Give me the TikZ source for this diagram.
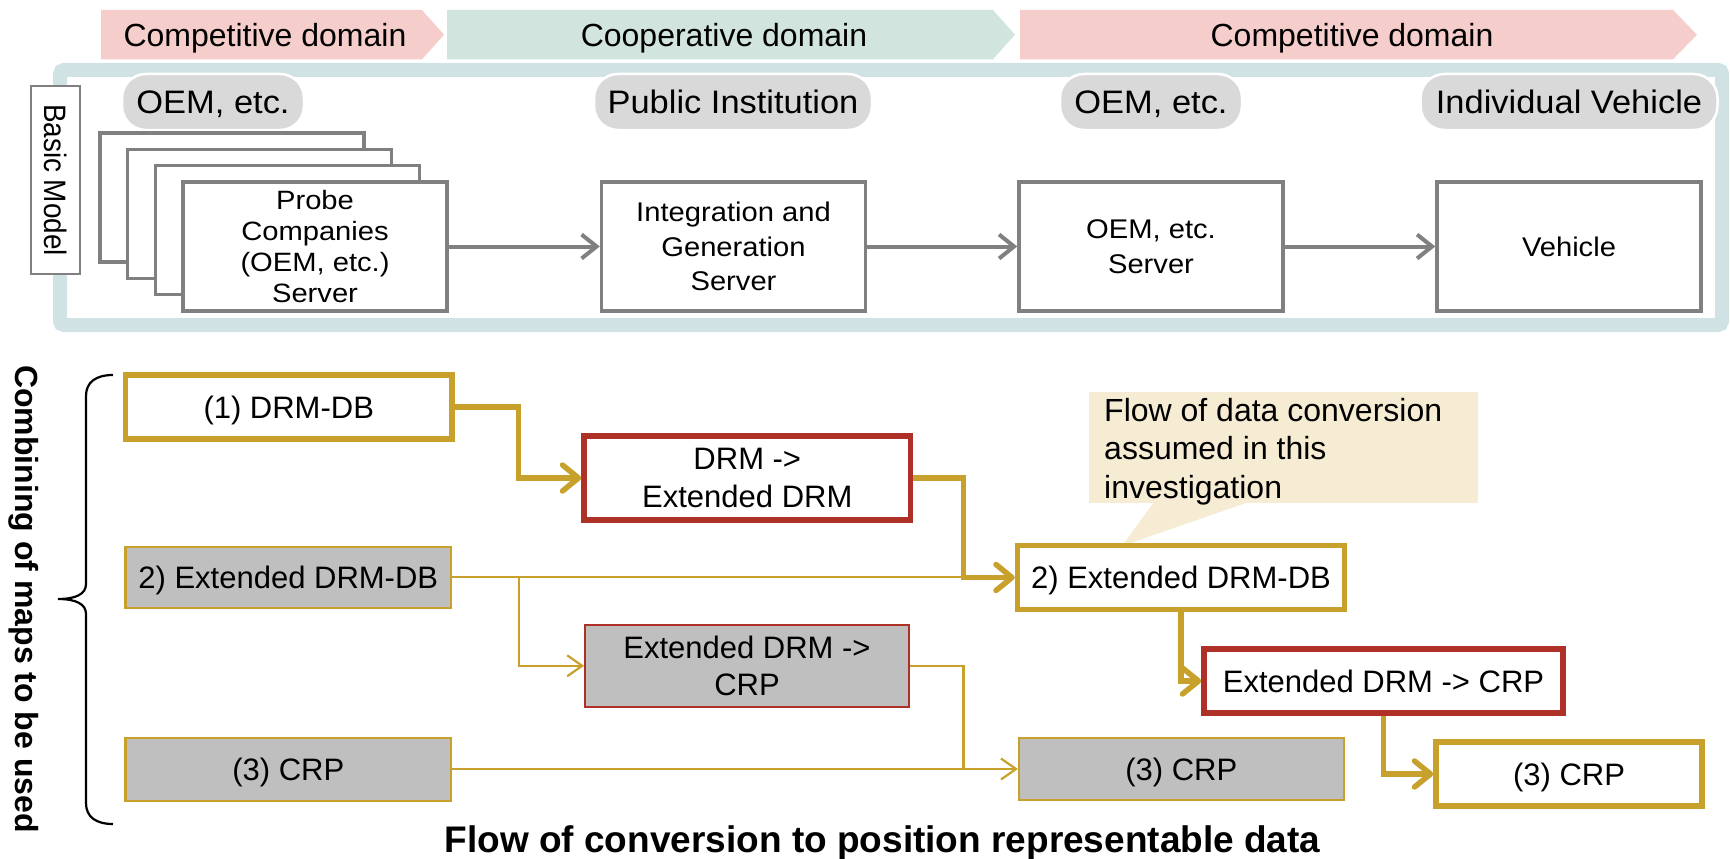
\documentclass[tikz,border=0pt]{standalone}
\usepackage{fontspec}
\setmainfont{Liberation Sans}
\newfontfamily\widefont[FakeStretch=1.08]{Liberation Sans}
\newfontfamily\pillfont[FakeStretch=1.06]{Liberation Sans}
\newfontfamily\probefont[FakeStretch=1.1]{Liberation Sans}
\newfontfamily\tallfont[FakeStretch=0.9]{Liberation Sans}
\usetikzlibrary{arrows.meta}
\definecolor{goldc}{HTML}{C8A02C}
\definecolor{redc}{HTML}{AF3026}
\definecolor{linegray}{HTML}{808080}
\definecolor{pillgray}{HTML}{D9D9D9}
\definecolor{boxgray}{HTML}{BFBFBF}
\definecolor{compet}{HTML}{F5CDCB}
\definecolor{coop}{HTML}{D1E4DE}
\definecolor{framec}{HTML}{D1E2E5}
\definecolor{notec}{HTML}{F6ECD3}
\newcommand\fsBanner{\fontsize{32pt}{38pt}\selectfont}
\newcommand\fsPill{\pillfont\fontsize{32.5pt}{39pt}\selectfont}
\newcommand\fsTop{\widefont\fontsize{27pt}{34.5pt}\selectfont}
\newcommand\fsProbe{\probefont\fontsize{26.5pt}{31pt}\selectfont}
\newcommand\fsBox{\fontsize{31pt}{37.5pt}\selectfont}
\newcommand\fsNote{\fontsize{32pt}{38.5pt}\selectfont}
\newcommand\fsTitle{\fontsize{37pt}{44pt}\selectfont\bfseries}
\newcommand\fsSide{\fontsize{32pt}{38pt}\selectfont\bfseries}
\newcommand\fsBasic{\tallfont\fontsize{31pt}{36pt}\selectfont}
\begin{document}
\begin{tikzpicture}[x=1pt,y=-1pt,
  bannertext/.style={font=\fsBanner, anchor=base, inner sep=0pt},
  pill/.style={fill=pillgray, draw=white, line width=2.5pt, rounded corners=24pt,
    minimum height=56pt, font=\fsPill, text height=23.3pt, text depth=0pt, inner sep=0pt},
  topbox/.style={draw=linegray, line width=3.5pt, fill=white, align=center, font=\fsTop,
    inner sep=0pt, minimum width=264pt, minimum height=129pt},
  flowarrow/.style={draw=linegray, line width=4pt, -{Straight Barb[length=15pt,width=24pt]}},
  mapbox/.style={align=center, font=\fsBox, inner sep=0pt},
  single/.style={text height=22pt, text depth=0pt},
  dbnew/.style={mapbox, draw=goldc, line width=5.5pt, fill=white},
  dbold/.style={mapbox, draw=goldc, line width=2.2pt, fill=boxgray},
  convnew/.style={mapbox, draw=redc, line width=5.5pt, fill=white},
  convold/.style={mapbox, draw=redc, line width=1.8pt, fill=boxgray},
  mainflow/.style={draw=goldc, line width=5.5pt, -{Straight Barb[length=16pt,width=26pt,round]}},
  sideflow/.style={draw=goldc, line width=2.2pt, -{Straight Barb[length=15pt,width=21pt]}},
  sideline/.style={draw=goldc, line width=2.2pt}]
\useasboundingbox (0,0) rectangle (1730,859);

% domain banners
\fill[compet] (101,10) -- (422,10) -- (444,34.7) -- (422,59.3) -- (101,59.3) -- cycle;
\fill[coop] (447,10) -- (993,10) -- (1015,34.7) -- (993,59.3) -- (447,59.3) -- cycle;
\fill[compet] (1020,10) -- (1673,10) -- (1697,34.7) -- (1673,59.3) -- (1020,59.3) -- cycle;
\node[bannertext] (dom1) at (265,47) {Competitive domain};
\node[bannertext] (dom2) at (724,47) {Cooperative domain};
\node[bannertext] (dom3) at (1352,47) {Competitive domain};

% basic model frame
\draw[framec, line width=14pt, rounded corners=4pt] (60,70) rectangle (1722,325);
\node[rotate=-90, draw=linegray, line width=2.5pt, fill=white, font=\fsBasic,
  minimum width=188pt, minimum height=49pt, inner sep=0pt, text height=22pt, text depth=0pt]
  (basic) at (55.5,180) {Basic Model};

% actors
\node[pill, minimum width=182pt] (act1) at (213,102) {OEM, etc.};
\node[pill, minimum width=278pt] (act2) at (733,102) {Public Institution};
\node[pill, minimum width=182pt] (act3) at (1151,102) {OEM, etc.};
\node[pill, minimum width=297pt] (act4) at (1569,102) {Individual Vehicle};

% servers
\node[topbox] (stack1) at (232,197.5) {};
\node[topbox] (stack2) at (259.5,214) {};
\node[topbox] (stack3) at (287.5,230) {};
\node[topbox, font=\fsProbe] (probe) at (315,246.5) {Probe\\Companies\\(OEM, etc.)\\Server};
\node[topbox] (integ) at (733.5,246.5) {Integration and\\Generation\\Server};
\node[topbox] (oem) at (1151,246.5) {OEM, etc.\\Server};
\node[topbox] (veh) at (1569,246.5) {Vehicle};
\draw[flowarrow] (probe.east) -- (integ.west);
\draw[flowarrow] (integ.east) -- (oem.west);
\draw[flowarrow] (oem.east) -- (veh.west);

% side label and brace
\node[font=\fsSide, rotate=-90, anchor=base, inner sep=0pt] (side) at (15,599) {Combining of maps to be used};
\draw[line width=2.2pt] (113,375) .. controls (96,375) and (86,382) .. (86,396) -- (86,584)
  .. controls (86,594) and (76,599) .. (58,599) .. controls (76,599) and (86,604) .. (86,614)
  -- (86,803) .. controls (86,817) and (96,824) .. (113,824);

% note
\fill[notec] (1089,391.7) rectangle (1478,502.7);
\fill[notec] (1154,502) -- (1122,546) -- (1249,502) -- cycle;
\node[font=\fsNote, align=left, anchor=north west, inner sep=0pt] (note) at (1104,398)
  {Flow of data conversion\\assumed in this\\investigation};

% map databases and conversions
\node[dbnew, single, minimum width=326.5pt, minimum height=64pt] (db1) at (288.75,407) {(1) DRM-DB};
\node[convnew, minimum width=326.6pt, minimum height=84pt] (conv1) at (747.3,478) {DRM ->\\Extended DRM};
\node[dbold, single, minimum width=325.5pt, minimum height=61.3pt] (db2old) at (288.3,577.3) {2) Extended DRM-DB};
\node[convold, minimum width=324pt, minimum height=81.7pt] (conv2old) at (747,665.8) {Extended DRM ->\\CRP};
\node[dbold, single, minimum width=325.5pt, minimum height=62.7pt] (db3old) at (288.3,769.3) {(3) CRP};
\node[dbnew, single, minimum width=327pt, minimum height=63.6pt] (db2new) at (1181,577.5) {2) Extended DRM-DB};
\node[convnew, single, minimum width=359pt, minimum height=64pt] (conv2new) at (1383.5,681) {Extended DRM -> CRP};
\node[dbold, single, minimum width=324.6pt, minimum height=62pt] (db3mid) at (1181.3,769) {(3) CRP};
\node[dbnew, single, minimum width=266pt, minimum height=64pt] (db3new) at (1569,774) {(3) CRP};

\coordinate (jA) at (518.7,0);
\coordinate (jB) at (963.5,0);
% existing-map flow
\draw[sideline] (db2old.east) -- (jB |- db2old.east);
\draw[sideflow] (jA |- db2old.east) |- (conv2old.west);
\draw[sideline] (db3old.east) -- (jB |- db3old.east);
\draw[sideflow] (conv2old.east) -| (jB |- db3mid.west) -- (db3mid.west);
% assumed conversion flow
\draw[mainflow] (db1.east) -| (jA |- conv1.west) -- (conv1.west);
\draw[mainflow] (conv1.east) -| (jB |- db2new.west) -- (db2new.west);
\draw[mainflow] (db2new.south) |- (conv2new.west);
\draw[mainflow] (conv2new.south) |- (db3new.west);

\node[font=\fsTitle, anchor=base, inner sep=0pt] (title) at (882.5,852) {Flow of conversion to position representable data};
\end{tikzpicture}
\end{document}
